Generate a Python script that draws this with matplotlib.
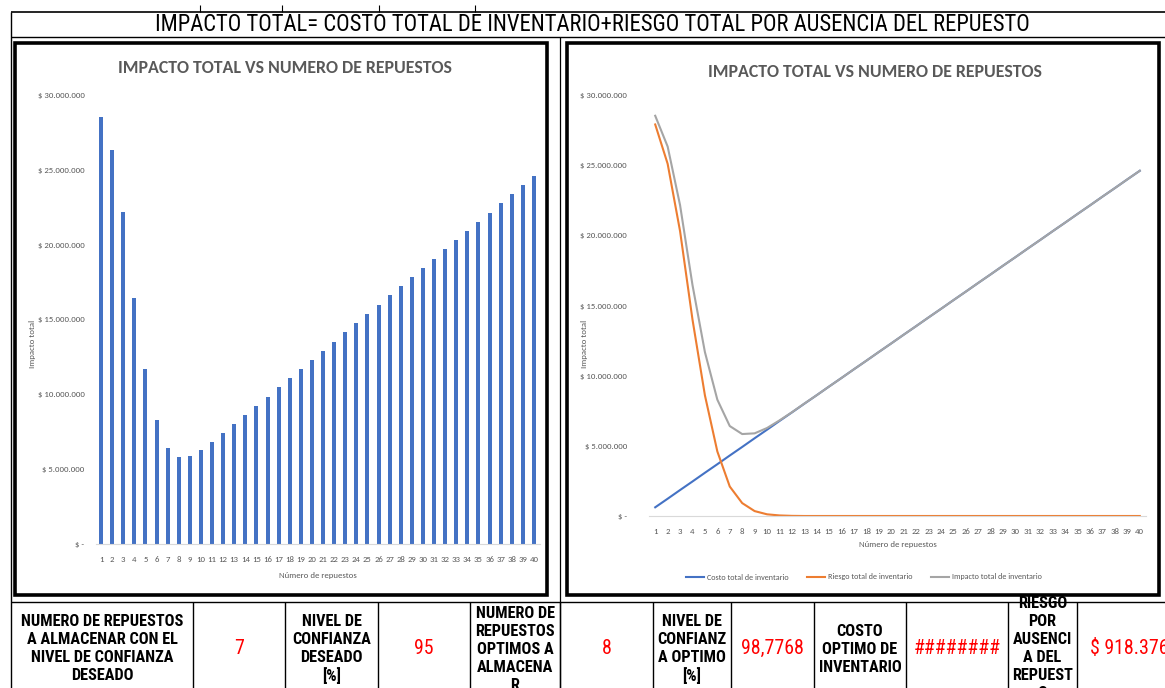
import matplotlib
matplotlib.use("Agg")
import matplotlib.pyplot as plt
from matplotlib.patches import Rectangle
from matplotlib.ticker import FuncFormatter, MultipleLocator
import logging
logging.getLogger("matplotlib.font_manager").setLevel(logging.ERROR)

W, H = 1165, 688

# ---------------- data ----------------
repuestos = list(range(1, 41))
impacto_total = [28.52, 26.33, 22.15, 16.46, 11.68, 8.29, 6.41, 5.84, 5.89, 6.27,
                 6.81, 7.39, 8.01, 8.61, 9.23, 9.84, 10.46, 11.07, 11.69, 12.30,
                 12.92, 13.53, 14.15, 14.76, 15.38, 15.99, 16.61, 17.22, 17.84, 18.45,
                 19.07, 19.68, 20.30, 20.91, 21.53, 22.14, 22.76, 23.37, 23.99, 24.60]
costo_total = [0.62, 1.23, 1.85, 2.46, 3.08, 3.69, 4.31, 4.92, 5.54, 6.15,
               6.77, 7.38, 8.00, 8.61, 9.23, 9.84, 10.46, 11.07, 11.69, 12.30,
               12.92, 13.53, 14.15, 14.76, 15.38, 15.99, 16.61, 17.22, 17.84, 18.45,
               19.07, 19.68, 20.30, 20.91, 21.53, 22.14, 22.76, 23.37, 23.99, 24.60]
riesgo_total = [27.90, 25.10, 20.30, 14.00, 8.60, 4.60, 2.10, 0.92, 0.35, 0.12,
                0.04, 0.01, 0, 0, 0, 0, 0, 0, 0, 0,
                0, 0, 0, 0, 0, 0, 0, 0, 0, 0,
                0, 0, 0, 0, 0, 0, 0, 0, 0, 0]
MILLION = 1e6

main_title = "IMPACTO TOTAL= COSTO TOTAL DE INVENTARIO+RIESGO TOTAL POR AUSENCIA DEL REPUESTO"
chart_title = "IMPACTO TOTAL VS NUMERO DE REPUESTOS"
x_label = "Número de repuestos"
y_label = "Impacto total"
legend_labels = ["Costo total de inventario", "Riesgo total de inventario", "Impacto total de inventario"]

table_headers = [
    ["NUMERO DE REPUESTOS", "A ALMACENAR CON EL", "NIVEL DE CONFIANZA", "DESEADO"],
    ["NIVEL DE", "CONFIANZA", "DESEADO", "[%]"],
    ["NUMERO DE", "REPUESTOS", "OPTIMOS A", "ALMACENA", "R"],
    ["NIVEL DE", "CONFIANZ", "A OPTIMO", "[%]"],
    ["COSTO", "OPTIMO DE", "INVENTARIO"],
    ["RIESGO", "POR", "AUSENCI", "A DEL", "REPUEST", "O"],
]
table_values = ["7", "95", "8", "98,7768", "########", "$ 918.376"]

# ---------------- styles ----------------
COND = ["Roboto Condensed", "Archivo Narrow", "Oswald", "DejaVu Sans"]
HEAD = ["Roboto Condensed", "Archivo Narrow", "Liberation Sans", "DejaVu Sans"]
CAL = ["Carlito", "Lato", "DejaVu Sans"]
BLUE, ORANGE, GRAY = "#4472C4", "#ED7D31", "#A5A5A5"
TXT = "#595959"
plt.rcParams["font.family"] = CAL

fig = plt.figure(figsize=(W / 100, H / 100), dpi=100)
fig.patch.set_facecolor("white")
renderer = fig.canvas.get_renderer()

def fit_size(family, weight, sample, target_px, start=12.0):
    t = fig.text(0, 0, sample, fontsize=start, family=family, weight=weight)
    w = t.get_window_extent(renderer=renderer).width
    t.remove()
    return start * target_px / w if w > 0 else start

# overlay for the sheet structure
ov = fig.add_axes([0, 0, 1, 1], zorder=0)
ov.set_xlim(0, W)
ov.set_ylim(H, 0)
ov.axis("off")

def hline(y, x0, x1, lw=1.0, c="black"):
    ov.plot([x0, x1], [y, y], color=c, lw=lw, solid_capstyle="butt")

def vline(x, y0, y1, lw=1.0, c="black"):
    ov.plot([x, x], [y0, y1], color=c, lw=lw, solid_capstyle="butt")

hline(12, 11, W, lw=1.2)
hline(37, 11, W, lw=1.0)
vline(11, 12, H, lw=1.0)
vline(560, 37, H, lw=0.9)
hline(602, 11, W, lw=1.0)
for x in [200, 282, 379, 475]:
    vline(x, 5, 12, lw=0.8)

title_size = fit_size(COND, "normal", main_title, 875)
ov.text(592, 24.5, main_title, ha="center", va="center", fontsize=title_size,
        family=COND, color="black")

# chart boxes
for (x0, y0, x1, y1) in [(15, 43, 547, 595), (567, 43, 1159, 595)]:
    ov.add_patch(Rectangle((x0, y0), x1 - x0, y1 - y0, fill=False,
                           ec="black", lw=2.6))

# table
col_edges = [11, 193, 285, 378, 470, 560, 653, 731, 814, 906, 1008, 1077, W]
for x in col_edges[1:-1]:
    vline(x, 602, H, lw=1.0)

def cell_clip(i):
    return Rectangle((col_edges[i], 602), col_edges[i + 1] - col_edges[i], H - 602,
                     transform=ov.transData, fill=False, lw=0)

head_size = fit_size(HEAD, "bold", table_headers[0][0], 163)
header_cols = [0, 2, 4, 6, 8, 10]
for k, lines in enumerate(table_headers):
    i = header_cols[k]
    cx = (col_edges[i] + col_edges[i + 1]) / 2
    n = len(lines)
    for j, s in enumerate(lines):
        y = 649 + (j - (n - 1) / 2) * 18
        t = ov.text(cx, y, s, ha="center", va="center", fontsize=head_size,
                    family=HEAD, weight="bold", color="black")
        t.set_clip_path(cell_clip(i))

val_size = fit_size(COND, "normal", "98,7768", 63)
value_cols = [1, 3, 5, 7, 9, 11]
for k, s in enumerate(table_values):
    i = value_cols[k]
    if i == 11:
        t = ov.text(1090, 648, s, ha="left", va="center", fontsize=val_size,
                    family=COND, color="#FF0000")
    else:
        cx = (col_edges[i] + col_edges[i + 1]) / 2
        t = ov.text(cx, 648, s, ha="center", va="center", fontsize=val_size,
                    family=COND, color="#FF0000")
    t.set_clip_path(cell_clip(i))

# ---------------- chart helpers ----------------
def px_axes(x0, y0, x1, y1):
    return fig.add_axes([x0 / W, 1 - y1 / H, (x1 - x0) / W, (y1 - y0) / H], zorder=2)

def money(v, pos=None):
    if abs(v) < 1:
        return "$ -"
    return "$ " + f"{int(round(v)):,}".replace(",", ".")

def style(ax, ypad):
    ax.set_facecolor("none")
    for s in ["top", "right", "left"]:
        ax.spines[s].set_visible(False)
    ax.spines["bottom"].set_color("#D9D9D9")
    ax.spines["bottom"].set_linewidth(0.8)
    ax.set_xlim(0.5, 40.5)
    ax.set_ylim(0, 30 * MILLION)
    ax.yaxis.set_major_locator(MultipleLocator(5 * MILLION))
    ax.yaxis.set_major_formatter(FuncFormatter(money))
    ax.set_xticks(repuestos)
    ax.set_xticklabels([str(r) for r in repuestos])
    ax.tick_params(axis="both", length=0, labelsize=6.3, labelcolor=TXT)
    ax.tick_params(axis="y", pad=ypad)
    ax.tick_params(axis="x", pad=9)

# ---------------- left chart: bars ----------------
axL = px_axes(95.5, 95, 539.5, 544)
style(axL, 8)
axL.bar(repuestos, [v * MILLION for v in impacto_total], width=0.36, color=BLUE)
axL.set_xlabel(x_label, fontsize=6.3, color=TXT, labelpad=6)
axL.yaxis.set_label_coords(32 / W, 1 - 320 / H, transform=fig.transFigure)
axL.set_ylabel(y_label, fontsize=6.3, color=TXT, va="center")
fig.text(285 / W, 1 - 68 / H, chart_title, ha="center", va="center",
         fontsize=12.9, weight="bold", color=TXT, family=CAL)

# ---------------- right chart: lines ----------------
axR = px_axes(649, 95, 1146, 516)
style(axR, 16)
lc, = axR.plot(repuestos, [v * MILLION for v in costo_total], color=BLUE, lw=1.5)
lr, = axR.plot(repuestos, [v * MILLION for v in riesgo_total], color=ORANGE, lw=1.5)
li, = axR.plot(repuestos, [v * MILLION for v in impacto_total], color=GRAY, lw=1.5)
axR.set_xlabel(x_label, fontsize=6.3, color=TXT, labelpad=4)
axR.yaxis.set_label_coords(584 / W, 1 - 300 / H, transform=fig.transFigure)
axR.set_ylabel(y_label, fontsize=6.3, color=TXT, va="center")
fig.text(875 / W, 1 - 72 / H, chart_title, ha="center", va="center",
         fontsize=12.9, weight="bold", color=TXT, family=CAL)
leg = axR.legend([lc, lr, li], legend_labels, ncol=3, frameon=False,
                 fontsize=5.9, loc="center", bbox_to_anchor=(864 / W, 1 - 577 / H),
                 bbox_transform=fig.transFigure, handlelength=2.2,
                 columnspacing=2.3, handletextpad=0.3)
for t in leg.get_texts():
    t.set_color(TXT)

fig.savefig("out.png", dpi=100, facecolor="white")
